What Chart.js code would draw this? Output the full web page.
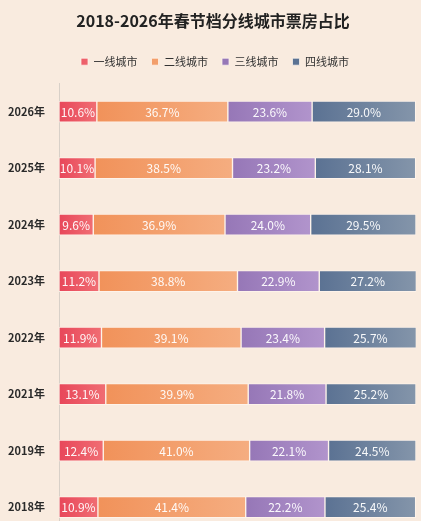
<!DOCTYPE html>
<html>
<head>
<meta charset="utf-8">
<script src="https://cdn.jsdelivr.net/npm/chart.js@4.4.1/dist/chart.umd.min.js"></script>
<style>
  html, body { margin: 0; padding: 0; background: #f9ebdf; overflow: hidden; }
  canvas { display: block; }
</style>
</head>
<body>
<canvas id="shareChart" width="421" height="542"></canvas>
<script>
// --- data ---
const years = ['2026年', '2025年', '2024年', '2023年', '2022年', '2021年', '2019年', '2018年'];
const tierNames = ['一线城市', '二线城市', '三线城市', '四线城市'];
const tier1 = [10.6, 10.1, 9.6, 11.2, 11.9, 13.1, 12.4, 10.9];
const tier2 = [36.7, 38.5, 36.9, 38.8, 39.1, 39.9, 41.0, 41.4];
const tier3 = [23.6, 23.2, 24.0, 22.9, 23.4, 21.8, 22.1, 22.2];
const tier4 = [29.0, 28.1, 29.5, 27.2, 25.7, 25.2, 24.5, 25.4];
const series = [tier1, tier2, tier3, tier4];

// left / right colours of each segment's gradient
const colorsFrom = ['#e8475a', '#f1925a', '#9677b7', '#5b7293'];
const colorsTo = ['#f06d73', '#f5ad80', '#b194cc', '#8495aa'];

const FONT = '"Noto Sans CJK SC", "Noto Sans", sans-serif';

function segmentFill(d) {
    return function (ctx) {
        const chart = ctx.chart;
        const x = chart.scales.x;
        if (ctx.type !== 'data' || !x || !chart.chartArea) return colorsFrom[d];
        const i = ctx.dataIndex;
        let start = 0;
        for (let k = 0; k < d; k++) start += series[k][i];
        const x0 = x.getPixelForValue(start);
        const x1 = x.getPixelForValue(start + series[d][i]);
        if (!isFinite(x0) || !isFinite(x1) || x1 <= x0) return colorsFrom[d];
        const g = chart.ctx.createLinearGradient(x0, 0, x1, 0);
        g.addColorStop(0, colorsFrom[d]);
        g.addColorStop(1, colorsTo[d]);
        return g;
    };
}

const valueLabels = {
    id: 'valueLabels',
    afterDatasetsDraw(chart) {
        const ctx = chart.ctx;
        ctx.save();
        ctx.font = '12px ' + FONT;
        ctx.fillStyle = 'rgba(255,255,255,0.95)';
        ctx.textAlign = 'center';
        ctx.textBaseline = 'middle';
        chart.data.datasets.forEach((ds, d) => {
            chart.getDatasetMeta(d).data.forEach((bar, i) => {
                const p = bar.getCenterPoint();
                ctx.fillText(ds.data[i].toFixed(1) + '%', p.x, p.y + 0.5);
            });
        });
        ctx.restore();
    }
};

// title and legend sit a little right of centre in the original
const nudgeHeader = {
    id: 'nudgeHeader',
    afterLayout(chart) {
        if (chart.titleBlock) { chart.titleBlock.left += 5; chart.titleBlock.right += 5; }
        if (chart.legend) { chart.legend.left += 7; chart.legend.right += 7; }
    }
};

const shareChart = new Chart(document.getElementById('shareChart').getContext('2d'), {
    type: 'bar',
    data: {
        labels: years,
        datasets: series.map((vals, d) => ({
            label: tierNames[d],
            data: vals,
            backgroundColor: segmentFill(d),
            borderColor: 'rgba(255,245,238,0.75)',
            borderWidth: 1,
            borderSkipped: false,
            barThickness: 21
        }))
    },
    options: {
        indexAxis: 'y',
        responsive: false,
        animation: false,
        layout: {
            padding: { left: 0, right: 5, top: 0, bottom: 0 }
        },
        plugins: {
            title: {
                display: true,
                text: '2018-2026年春节档分线城市票房占比',
                color: '#222',
                font: { family: FONT, size: 16, weight: 'bold' },
                padding: { top: 11, bottom: 12 }
            },
            subtitle: {
                display: true,
                text: '',
                position: 'top',
                weight: 500,
                font: { size: 1 },
                padding: { top: 0, bottom: 5 }
            },
            legend: {
                display: true,
                labels: {
                    boxWidth: 7,
                    boxHeight: 7,
                    padding: 14,
                    color: '#333',
                    font: { family: FONT, size: 11 }
                }
            },
            tooltip: { enabled: false }
        },
        scales: {
            x: {
                stacked: true,
                display: false,
                min: 0,
                max: 100
            },
            y: {
                stacked: true,
                grid: { display: false, drawTicks: true, tickLength: 14 },
                border: { display: true, color: '#d8d0c8', width: 1 },
                afterFit(scale) { scale.width = 59; },
                ticks: {
                    padding: 0,
                    color: '#2a2a2a',
                    font: { family: FONT, size: 11, weight: 'bold' }
                }
            }
        }
    },
    plugins: [valueLabels, nudgeHeader]
});
</script>
</body>
</html>
